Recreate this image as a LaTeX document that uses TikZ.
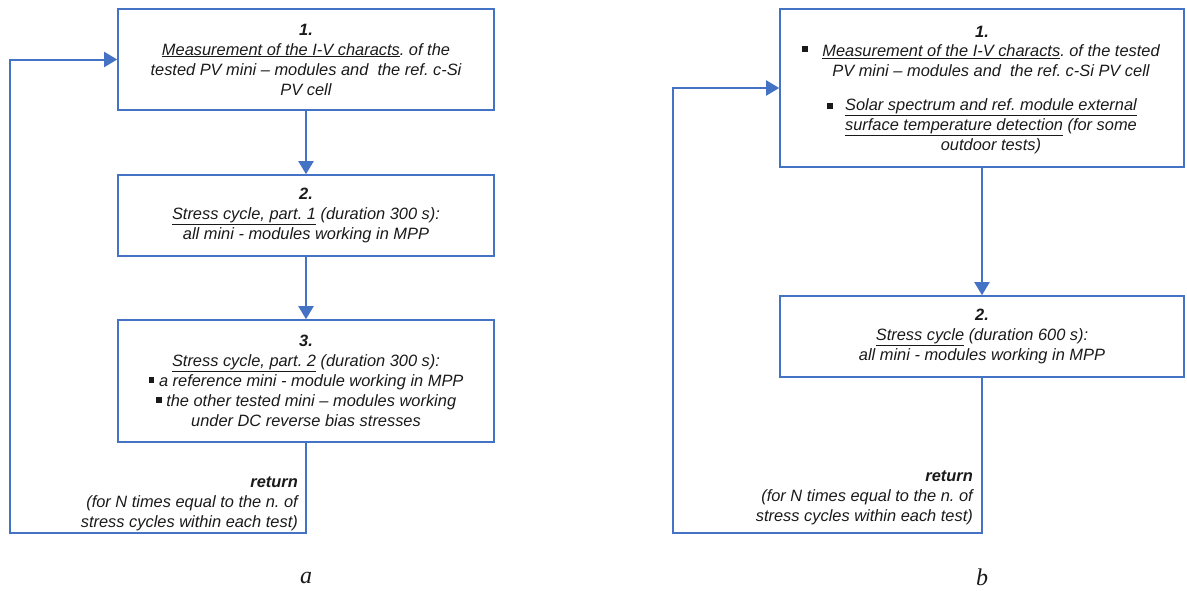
\documentclass[tikz,border=0pt]{standalone}
\usepackage{fontspec}
\setmainfont{Liberation Sans}
\newfontfamily\serifit{Liberation Serif}
\usetikzlibrary{arrows.meta}
\definecolor{lineblue}{HTML}{4472C4}
\definecolor{txt}{HTML}{1A1A1A}
\newcommand\mybul{\rule[0.2em]{0.36em}{0.36em}}
\frenchspacing
\tikzset{
 stepbox/.style={draw=lineblue, line width=1.6pt, align=center, font=\fontsize{16.4}{20}\selectfont\itshape, text=txt, inner sep=0pt},
 boxtext/.style={align=center, font=\fontsize{16.4}{20}\selectfont\itshape, text=txt, inner sep=0pt},
 link/.style={draw=lineblue, line width=2pt, -{Triangle[length=13pt,width=15pt]}},
 note/.style={align=right, font=\fontsize{16.4}{20}\selectfont\itshape, text=txt, inner sep=0pt, anchor=north east},
 panel/.style={font=\fontsize{24}{26}\selectfont\serifit\itshape, text=txt, inner sep=0pt}
}
\begin{document}
\begin{tikzpicture}[x=1pt,y=-1pt]
\useasboundingbox (0,0) rectangle (1187,590);
% ---- panel a ----
\node[stepbox, minimum width=376pt, minimum height=101pt] (L1) at (306,59.5)
 {\textbf{1.}\\ \underline{Measurement of the I-V characts}. of the\\ tested PV mini -- modules and\ \ the ref. c-Si\\ PV cell};
\node[stepbox, minimum width=376pt, minimum height=81pt] (L2) at (306,215.5)
 {\textbf{2.}\\ \underline{Stress cycle, part. 1} (duration 300 s):\\ all mini - modules working in MPP};
\node[stepbox, minimum width=376pt, minimum height=122pt] (L3) at (306,381)
 {\textbf{3.}\\ \underline{Stress cycle, part. 2} (duration 300 s):\\ \mybul\ a reference mini - module working in MPP\\ \mybul\ the other tested mini -- modules working\\ under DC reverse bias stresses};
\coordinate (Lc) at (10,533);
\draw[link] (L1) -- (L2);
\draw[link] (L2) -- (L3);
\draw[link] (L3.south) |- (Lc) |- (L1.west);
\node[note] (LN) at (298,477) {\textbf{return}\\ (for N times equal to the n. of\\ stress cycles within each test)};
\node[panel] (La) at (306,578) {a};
% ---- panel b ----
\node[draw=lineblue, line width=1.6pt, minimum width=404pt, minimum height=158pt, inner sep=0pt] (R1) at (982,88) {};
\node[boxtext] (R1n) at (982,32) {\textbf{1.}};
\node[boxtext] (R1b1) at (805,51) {\mybul};
\node[boxtext] (R1t1) at (991,60.5) {\underline{Measurement of the I-V characts}. of the tested\\ PV mini -- modules and\ \ the ref. c-Si PV cell};
\node[boxtext] (R1b2) at (830,108) {\mybul};
\node[boxtext] (R1t2) at (991,126.5) {\underline{Solar spectrum and ref. module external}\\ \underline{surface temperature detection} (for some\\ outdoor tests)};
\node[stepbox, minimum width=404pt, minimum height=81pt] (R2) at (982,336.5)
 {\textbf{2.}\\ \underline{Stress cycle} (duration 600 s):\\ all mini - modules working in MPP};
\coordinate (Rc) at (673,533);
\draw[link] (R1) -- (R2);
\draw[link] (R2.south) |- (Rc) |- (R1.west);
\node[note] (RN) at (973,471) {\textbf{return}\\ (for N times equal to the n. of\\ stress cycles within each test)};
\node[panel] (Rb) at (982,577) {b};
\end{tikzpicture}
\end{document}
